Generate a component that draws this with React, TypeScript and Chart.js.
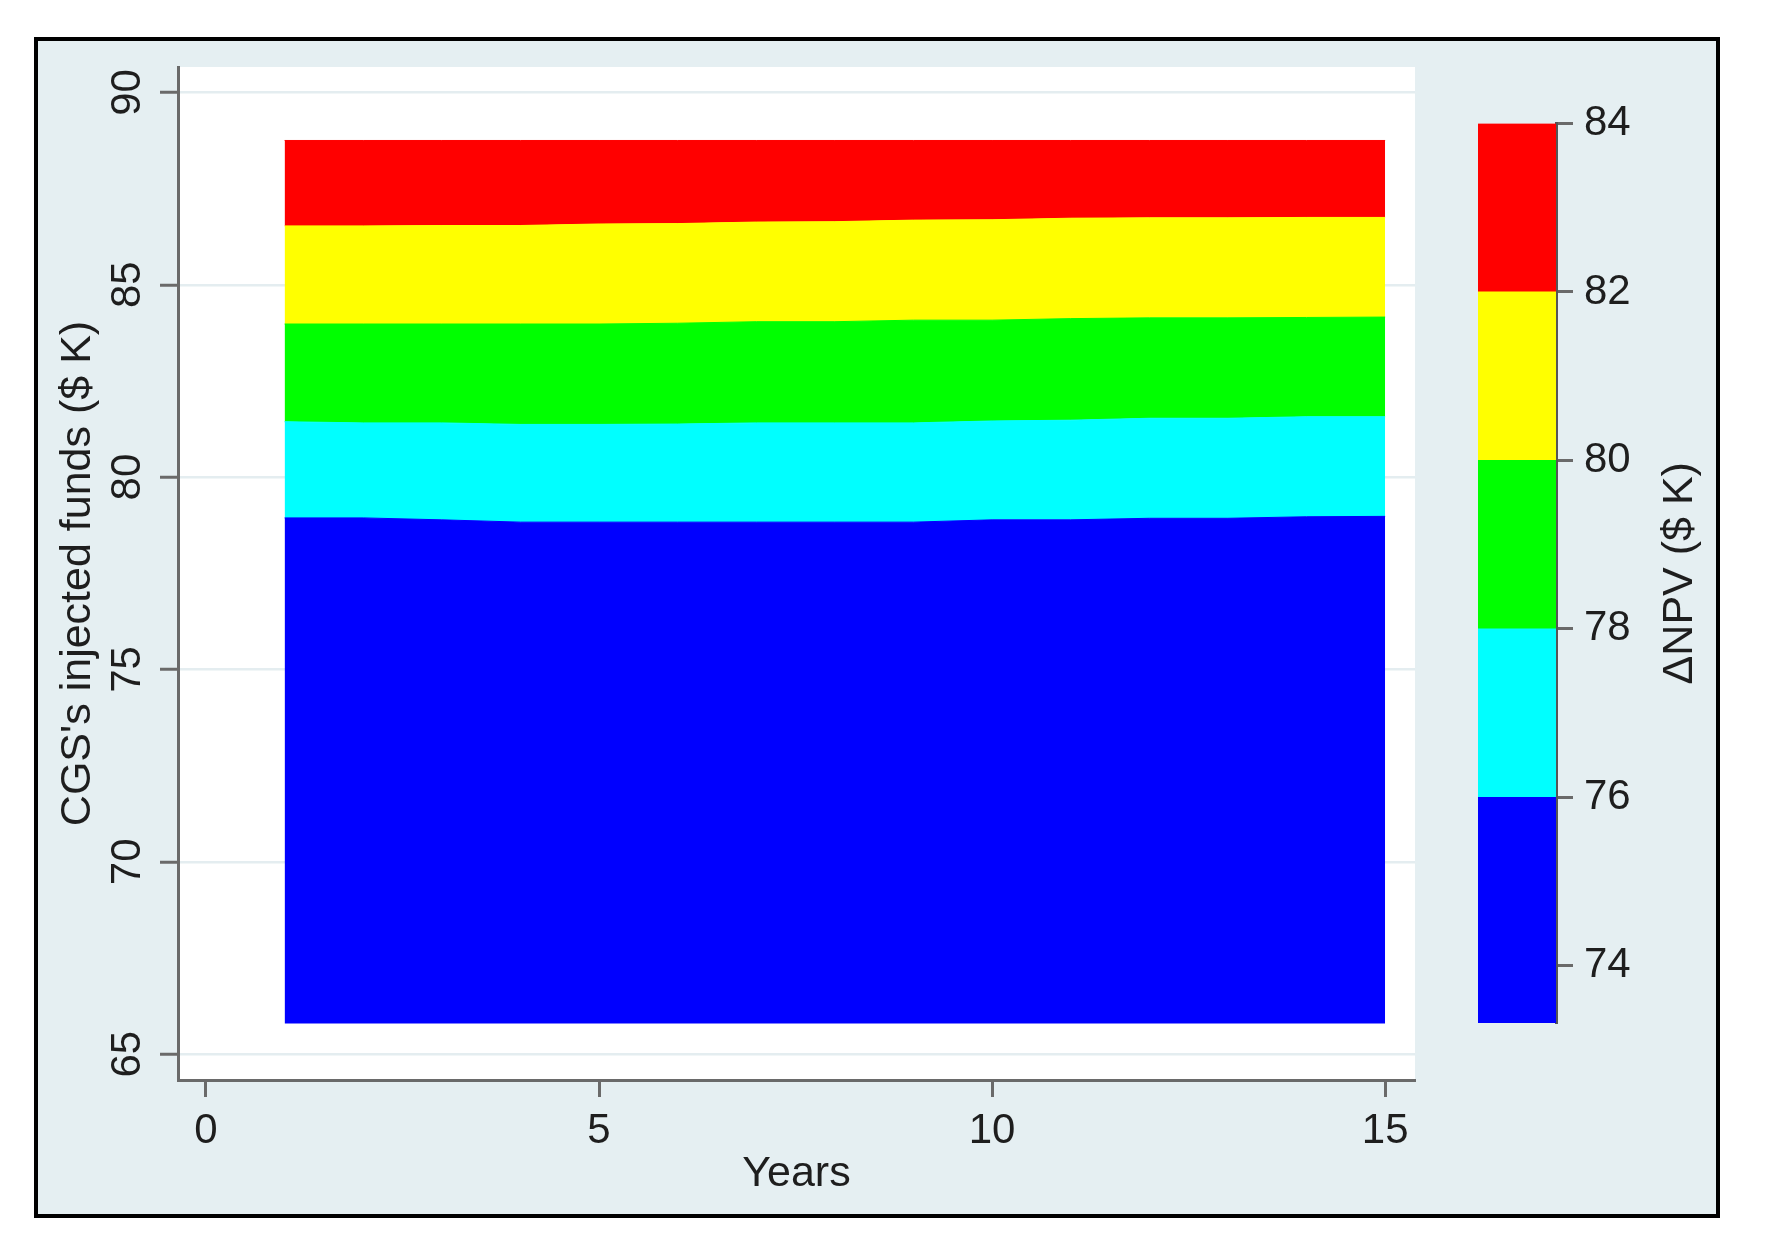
import React, { useEffect, useRef } from "react";
import { Chart, registerables } from "chart.js";

Chart.register(...registerables);

// ---- data ----
const years = [1, 2, 3, 4, 5, 6, 7, 8, 9, 10, 11, 12, 13, 14, 15];
const bottomEdge = [65.8, 65.8, 65.8, 65.8, 65.8, 65.8, 65.8, 65.8, 65.8, 65.8, 65.8, 65.8, 65.8, 65.8, 65.8];
const contour76 = [78.94, 78.94, 78.89, 78.83, 78.83, 78.83, 78.83, 78.83, 78.83, 78.89, 78.89, 78.93, 78.93, 78.97, 78.98];
const contour78 = [81.44, 81.41, 81.41, 81.37, 81.37, 81.38, 81.41, 81.41, 81.41, 81.46, 81.48, 81.53, 81.53, 81.57, 81.57];
const contour80 = [83.98, 83.98, 83.98, 83.98, 83.98, 84.0, 84.04, 84.04, 84.08, 84.08, 84.12, 84.14, 84.14, 84.15, 84.16];
const contour82 = [86.53, 86.53, 86.54, 86.54, 86.58, 86.59, 86.63, 86.64, 86.68, 86.69, 86.73, 86.74, 86.74, 86.75, 86.75];
const topEdge = [88.75, 88.75, 88.75, 88.75, 88.75, 88.75, 88.75, 88.75, 88.75, 88.75, 88.75, 88.75, 88.75, 88.75, 88.75];

const xTicks = [0, 5, 10, 15];
const yTicks = [65, 70, 75, 80, 85, 90];
const colorbarLevels = [73.32, 76, 78, 80, 82, 84];
const colorbarTicks = [74, 76, 78, 80, 82, 84];
const bandColors = ["#0000FF", "#00FFFF", "#00FF00", "#FFFF00", "#FF0000"];

const xTitle = "Years";
const yTitle = "CGS's injected funds ($ K)";
const colorbarTitle = "ΔNPV ($ K)";

const FONT = "'Liberation Sans', Arial, Helvetica, sans-serif";
const TEXT = "#1e1e1e";
const AXIS = "#6a6a6a";

const W = 1766;
const H = 1248;

export default function App() {
  const mainRef = useRef<HTMLCanvasElement>(null);
  const barRef = useRef<HTMLCanvasElement>(null);

  useEffect(() => {
    document.body.style.margin = "0";
    if (!mainRef.current || !barRef.current) return;

    const boundaries = [bottomEdge, contour76, contour78, contour80, contour82, topEdge];

    const whitePlot = {
      id: "whitePlot",
      beforeDraw(chart: any) {
        const { ctx, chartArea } = chart;
        ctx.save();
        ctx.fillStyle = "#ffffff";
        ctx.fillRect(chartArea.left, chartArea.top, chartArea.right - chartArea.left, chartArea.bottom - chartArea.top);
        ctx.restore();
      },
    };

    const main = new Chart(mainRef.current, {
      type: "line",
      data: {
        datasets: boundaries.map((arr, i) => ({
          data: years.map((x, j) => ({ x, y: arr[j] })),
          borderWidth: i === 0 ? 0 : 1,
          borderColor: i === 0 ? "rgba(0,0,0,0)" : bandColors[i - 1],
          backgroundColor: i === 0 ? "rgba(0,0,0,0)" : bandColors[i - 1],
          fill: i === 0 ? false : "-1",
          pointRadius: 0,
          tension: 0,
        })),
      },
      options: {
        animation: false,
        responsive: false,
        maintainAspectRatio: false,
        events: [],
        layout: { padding: { left: 0, top: 67, right: 351, bottom: 48 } },
        plugins: { legend: { display: false }, tooltip: { enabled: false } },
        scales: {
          x: {
            type: "linear",
            min: -0.356,
            max: 15.38,
            afterBuildTicks: (s: any) => {
              s.ticks = xTicks.map((v) => ({ value: v }));
            },
            afterFit: (s: any) => {
              s.height = 120;
            },
            ticks: {
              font: { family: FONT, size: 42 },
              color: TEXT,
              padding: 9,
              autoSkip: false,
              maxRotation: 0,
              minRotation: 0,
              callback: (v: any) => String(v),
            },
            grid: { drawOnChartArea: false, tickLength: 17, tickColor: AXIS, tickWidth: 3 },
            border: { display: true, color: AXIS, width: 3 },
            title: {
              display: true,
              text: xTitle,
              font: { family: FONT, size: 43 },
              color: TEXT,
              padding: { top: 0, bottom: 0 },
            },
          },
          y: {
            type: "linear",
            min: 64.33,
            max: 90.66,
            afterBuildTicks: (s: any) => {
              s.ticks = yTicks.map((v) => ({ value: v }));
            },
            afterFit: (s: any) => {
              s.width = 178;
            },
            ticks: {
              font: { family: FONT, size: 42 },
              color: TEXT,
              padding: 8,
              crossAlign: "center",
              minRotation: 90,
              maxRotation: 90,
              autoSkip: false,
              callback: (v: any) => String(v),
            },
            grid: { color: "#E4EDF0", lineWidth: 2.5, tickLength: 18, tickColor: AXIS, tickWidth: 3 },
            border: { display: true, color: AXIS, width: 3 },
            title: {
              display: true,
              text: yTitle,
              font: { family: FONT, size: 43 },
              color: TEXT,
              padding: { top: 52, bottom: 0 },
            },
          },
        },
      } as any,
      plugins: [whitePlot],
    });

    const cbTitle = {
      id: "cbTitle",
      afterDraw(chart: any) {
        const { ctx, chartArea } = chart;
        ctx.save();
        ctx.translate(240, (chartArea.top + chartArea.bottom) / 2);
        ctx.rotate(-Math.PI / 2);
        ctx.font = `43px ${FONT}`;
        ctx.fillStyle = TEXT;
        ctx.textAlign = "center";
        ctx.textBaseline = "middle";
        ctx.fillText(colorbarTitle, 0, 0);
        ctx.restore();
      },
    };

    const bar = new Chart(barRef.current, {
      type: "bar",
      data: {
        labels: [""],
        datasets: bandColors.map((c, i) => ({
          data: [[colorbarLevels[i], colorbarLevels[i + 1]]],
          backgroundColor: c,
          borderWidth: 0,
          barPercentage: 1,
          categoryPercentage: 1,
          grouped: false,
        })),
      },
      options: {
        animation: false,
        responsive: false,
        maintainAspectRatio: false,
        events: [],
        layout: { padding: { left: 38, top: 123.5, right: 0, bottom: 225 } },
        plugins: { legend: { display: false }, tooltip: { enabled: false } },
        scales: {
          x: { display: false },
          y: {
            position: "right",
            min: colorbarLevels[0],
            max: colorbarLevels[colorbarLevels.length - 1],
            afterBuildTicks: (s: any) => {
              s.ticks = colorbarTicks.map((v) => ({ value: v }));
            },
            afterFit: (s: any) => {
              s.width = 210;
            },
            ticks: {
              font: { family: FONT, size: 42 },
              color: TEXT,
              padding: 11,
              autoSkip: false,
              callback: (v: any) => String(v),
            },
            grid: { drawOnChartArea: false, tickLength: 17, tickColor: AXIS, tickWidth: 3 },
            border: { display: true, color: "#555555", width: 3 },
          },
        },
      } as any,
      plugins: [cbTitle],
    });

    return () => {
      main.destroy();
      bar.destroy();
    };
  }, []);

  return (
    <div style={{ position: "relative", width: W, height: H, background: "#ffffff", overflow: "hidden" }}>
      <div
        style={{
          position: "absolute",
          left: 34,
          top: 37,
          width: 1686,
          height: 1181,
          boxSizing: "border-box",
          border: "4px solid #000",
          background: "#E5EFF2",
        }}
      />
      <canvas ref={mainRef} width={W} height={H} style={{ position: "absolute", left: 0, top: 0 }} />
      <canvas ref={barRef} width={326} height={H} style={{ position: "absolute", left: 1440, top: 0 }} />
    </div>
  );
}
